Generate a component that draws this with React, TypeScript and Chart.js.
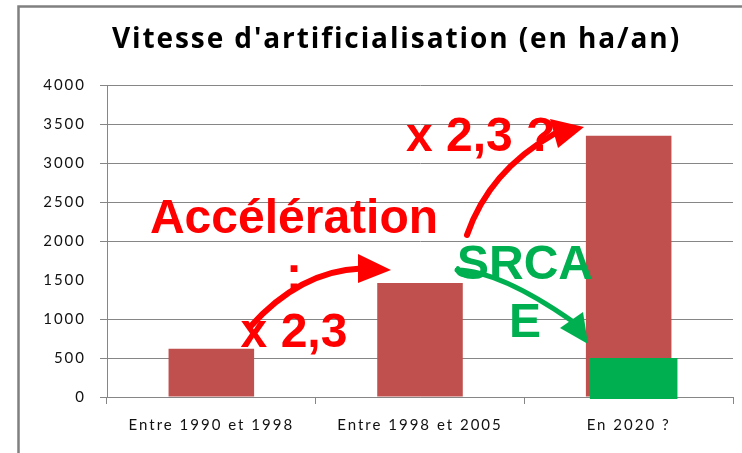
import React, { useEffect, useRef } from 'react';
import { Chart, registerables } from 'chart.js';

Chart.register(...registerables);

// ---- data ----
const categories = ['Entre 1990 et 1998', 'Entre 1998 et 2005', 'En 2020 ?'];
const speeds = [620, 1460, 3350];
const srcaeIndex = 2;
const srcaeValue = 500;
const yMin = 0;
const yMax = 4000;
const yStep = 500;
const hiddenGridValue = 1500;
const chartTitle = "Vitesse d'artificialisation (en ha/an)";
const accelLines = ['Accélération', ':', 'x 2,3'];
const futureLabel = 'x 2,3 ?';
const srcaeLines = ['SRCA', 'E'];

// ---- styles ----
const BAR_RED = '#C0504D';
const SRCAE_GREEN = '#00B050';
const ANNOT_RED = '#FF0000';
const GRID = '#868686';
const W = 742;
const H = 453;
const TITLE_LEFT = 112;
const TITLE_RIGHT = 679;

function arrow(ctx: CanvasRenderingContext2D, color: string, lw: number,
  p0: number[], c: number[], p1: number[], head: number[][]) {
  ctx.save();
  ctx.strokeStyle = color;
  ctx.fillStyle = color;
  ctx.lineWidth = lw;
  ctx.lineCap = 'round';
  ctx.beginPath();
  ctx.moveTo(p0[0], p0[1]);
  ctx.quadraticCurveTo(c[0], c[1], p1[0], p1[1]);
  ctx.stroke();
  ctx.beginPath();
  ctx.moveTo(head[0][0], head[0][1]);
  ctx.lineTo(head[1][0], head[1][1]);
  ctx.lineTo(head[2][0], head[2][1]);
  ctx.closePath();
  ctx.fill();
  ctx.restore();
}

export default function App() {
  const ref = useRef<HTMLCanvasElement>(null);

  useEffect(() => {
    const canvas = ref.current!;
    const decor = {
      id: 'decor',
      beforeDraw(chart: any) {
        const ctx = chart.ctx as CanvasRenderingContext2D;
        ctx.save();
        ctx.fillStyle = '#ffffff';
        ctx.fillRect(0, 0, chart.width, chart.height);
        ctx.strokeStyle = '#808080';
        ctx.lineWidth = 2.5;
        ctx.beginPath();
        ctx.moveTo(18.5, chart.height);
        ctx.lineTo(18.5, 6.5);
        ctx.lineTo(chart.width, 6.5);
        ctx.stroke();
        ctx.font = 'bold 28px "Open Sans"';
        (ctx as any).letterSpacing = '0px';
        const natural = ctx.measureText(chartTitle).width;
        const spacing = (TITLE_RIGHT - TITLE_LEFT - natural) / (chartTitle.length - 1);
        (ctx as any).letterSpacing = spacing.toFixed(2) + 'px';
        ctx.fillStyle = '#000';
        ctx.textAlign = 'left';
        ctx.textBaseline = 'alphabetic';
        ctx.fillText(chartTitle, TITLE_LEFT, 48);
        ctx.restore();
        (ctx as any).letterSpacing = '2px';
      },
      afterDatasetsDraw(chart: any) {
        const ctx = chart.ctx as CanvasRenderingContext2D;
        ctx.save();
        (ctx as any).letterSpacing = '0px';
        const y = chart.scales.y;
        const bar = chart.getDatasetMeta(0).data[srcaeIndex];
        const left = bar.x - bar.width / 2 + 4;
        const right = bar.x + bar.width / 2 + 6;
        const top = y.getPixelForValue(srcaeValue);
        const bottom = y.getPixelForValue(0) + 2;
        ctx.fillStyle = SRCAE_GREEN;
        ctx.fillRect(left, top, right - left, bottom - top);

        // arrows
        arrow(ctx, ANNOT_RED, 6, [250, 327], [300, 271], [361, 268.5],
          [[358, 254], [391, 270], [358, 283]]);
        arrow(ctx, ANNOT_RED, 6, [467, 235], [489, 171], [554, 134],
          [[550, 119], [584, 127], [558, 148]]);
        arrow(ctx, SRCAE_GREEN, 5, [457, 270], [500, 271], [572, 321],
          [[560, 328], [588, 344], [583, 312]]);
        ctx.save();
        ctx.strokeStyle = SRCAE_GREEN;
        ctx.lineWidth = 4;
        ctx.lineCap = 'round';
        ctx.beginPath();
        ctx.moveTo(472, 276);
        ctx.quadraticCurveTo(455, 276, 458, 268);
        ctx.stroke();
        ctx.restore();

        // texts
        ctx.font = 'bold 48px "Liberation Sans", Arial, sans-serif';
        ctx.textBaseline = 'alphabetic';
        ctx.fillStyle = ANNOT_RED;
        ctx.textAlign = 'center';
        accelLines.forEach((t, i) => ctx.fillText(t, 294, 233 + i * 57));
        ctx.textAlign = 'left';
        ctx.fillText(futureLabel, 406, 151);
        ctx.fillStyle = SRCAE_GREEN;
        ctx.textAlign = 'center';
        srcaeLines.forEach((t, i) => ctx.fillText(t, 525, 279 + i * 58));
        ctx.restore();
      },
    };

    const chart = new Chart(canvas, {
      type: 'bar',
      data: {
        labels: categories,
        datasets: [{
          data: speeds,
          backgroundColor: BAR_RED,
          borderWidth: 0,
          barPercentage: 0.41,
          categoryPercentage: 1,
        }],
      },
      options: {
        responsive: false,
        animation: false,
        devicePixelRatio: 1,
        layout: { padding: { top: 85, right: 9, left: 0, bottom: 0 } },
        plugins: {
          legend: { display: false },
          tooltip: { enabled: false },
          title: { display: false },
        },
        scales: {
          x: {
            grid: { drawOnChartArea: false, drawTicks: true, tickLength: 7, color: GRID, offset: true },
            border: { color: GRID, width: 1 },
            ticks: { color: '#111', font: { family: 'Lato', size: 15 }, padding: 12, maxRotation: 0 },
            afterFit: (s: any) => { s.height = 56; },
          },
          y: {
            min: yMin,
            max: yMax,
            grid: {
              color: (c: any) => (c.tick && c.tick.value === hiddenGridValue ? 'rgba(0,0,0,0)' : GRID),
              tickLength: 7,
              lineWidth: 1,
            },
            border: { color: GRID, width: 1 },
            ticks: {
              stepSize: yStep,
              color: '#111',
              font: { family: 'Lato', size: 15 },
              padding: 14,
              callback: (v: any) => String(v),
            },
            afterFit: (s: any) => { s.width = 107; },
          },
        },
      },
      plugins: [decor],
    });
    return () => chart.destroy();
  }, []);

  return (
    <div style={{ position: 'absolute', left: 0, top: 0, width: W, height: H }}>
      <canvas ref={ref} width={W} height={H} style={{ width: W, height: H, display: 'block' }} />
    </div>
  );
}
